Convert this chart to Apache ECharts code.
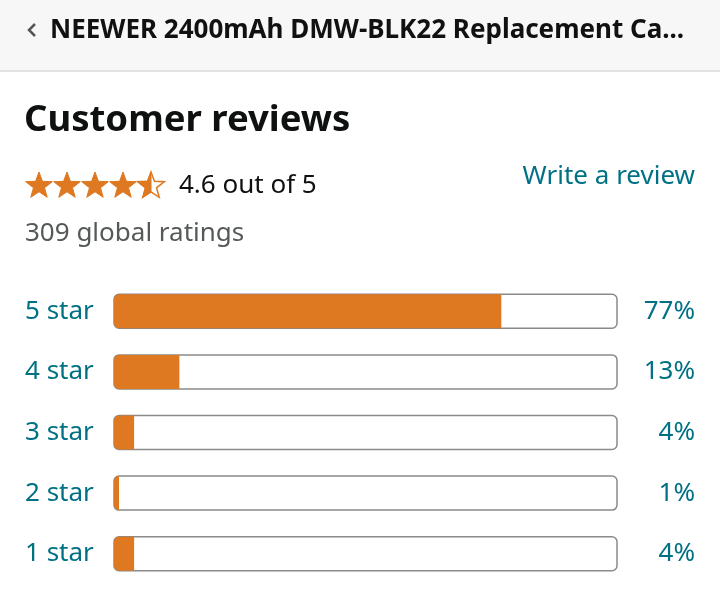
<!DOCTYPE html>
<html><head><meta charset="utf-8">
<script src="https://cdn.jsdelivr.net/npm/echarts@6/dist/echarts.min.js"></script>
<style>html,body{margin:0;padding:0;background:#fff}#c{width:720px;height:600px}</style>
</head><body><div id="c"></div>
<script>
const categories = ['5 star', '4 star', '3 star', '2 star', '1 star'];
const percents = [77, 13, 4, 1, 4];
const percentLabels = ['77%', '13%', '4%', '1%', '4%'];
const headerTitle = 'NEEWER 2400mAh DMW-BLK22 Replacement Ca...';
const rating = 4.6;

const FONT = '"Noto Sans", "Open Sans", sans-serif';
const ORANGE = '#de7921';
const TEAL = '#007185';

function starPoints(cx, cy, R, r) {
  const pts = [];
  for (let i = 0; i < 10; i++) {
    const a = -Math.PI / 2 + i * Math.PI / 5;
    const rad = i % 2 === 0 ? R : r;
    pts.push([cx + rad * Math.cos(a), cy + rad * Math.sin(a)]);
  }
  return pts;
}
const graphics = [
  {type:'rect', shape:{x:0,y:0,width:720,height:70}, style:{fill:'#f7f7f7'}, silent:true},
  {type:'rect', shape:{x:0,y:70,width:720,height:2}, style:{fill:'#e3e3e3'}, silent:true},
  {type:'polyline', shape:{points:[[35,24],[29,30],[35,36]]}, style:{stroke:'#555',lineWidth:2.5,fill:null}},
  {type:'text', x:50, y:31, style:{text:headerTitle, font:'bold 26px ' + FONT, fill:'#111', textVerticalAlign:'middle'}},
  {type:'text', x:24, y:121, style:{text:'Customer reviews', font:'bold 36.5px ' + FONT, fill:'#0f1111', textVerticalAlign:'middle'}},
  {type:'text', x:179, y:186, style:{text:rating + ' out of 5', font:'26px ' + FONT, fill:'#0f1111', textVerticalAlign:'middle'}},
  {type:'text', x:25, y:234, style:{text:'309 global ratings', font:'26px ' + FONT, fill:'#565959', textVerticalAlign:'middle'}},
  {type:'text', x:695, y:177, style:{text:'Write a review', font:'26px ' + FONT, fill:TEAL, textVerticalAlign:'middle', textAlign:'right'}}
];
for (let i = 0; i < 5; i++) {
  const cx = 39 + i * 28, cy = 186;
  const pts = starPoints(cx, cy, 14, 5.8);
  const fillFrac = Math.max(0, Math.min(1, rating - i));
  if (fillFrac >= 0.95) {
    graphics.push({type:'polygon', shape:{points:pts}, style:{fill:ORANGE, stroke:ORANGE, lineWidth:1}});
  } else {
    graphics.push({type:'polygon', shape:{points:pts}, style:{fill:'#fff', stroke:ORANGE, lineWidth:1.5}});
    const lp = [pts[0], pts[9], pts[8], pts[7], pts[6], [cx, cy + 5.8]];
    graphics.push({type:'polygon', shape:{points:lp}, style:{fill:ORANGE, stroke:ORANGE, lineWidth:1}});
  }
}

const chart = echarts.init(document.getElementById('c'), null, {renderer:'canvas'});
chart.setOption({
  animation:false,
  backgroundColor:'#fff',
  grid:{left:114, right:103, top:281, bottom:16},
  xAxis:{type:'value', min:0, max:100, show:false},
  yAxis:[
    {type:'category', data:categories, inverse:true, position:'left',
     axisLine:{show:false}, axisTick:{show:false},
     axisLabel:{color:TEAL, fontSize:26, fontFamily:FONT, align:'left', margin:89, padding:[3,0,0,0]}},
    {type:'category', data:percentLabels, inverse:true, position:'right',
     axisLine:{show:false}, axisTick:{show:false},
     axisLabel:{color:TEAL, fontSize:26, fontFamily:FONT, align:'right', margin:78, padding:[3,0,0,0]}}
  ],
  series:[{
    type:'bar', data:percents, barWidth:34, yAxisIndex:0,
    showBackground:true,
    backgroundStyle:{color:'#fff', borderColor:'#8a8a8a', borderWidth:1.5, borderRadius:5},
    itemStyle:{color:ORANGE, borderRadius:[5,0,0,5]}
  }],
  graphic:graphics
});
</script></body></html>
